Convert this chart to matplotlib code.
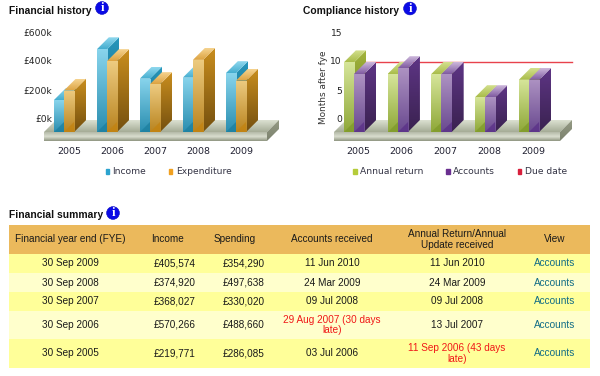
import numpy as np
import matplotlib
matplotlib.use('Agg')
import matplotlib.pyplot as plt
from matplotlib.colors import LinearSegmentedColormap
from matplotlib.patches import Patch, Polygon, Rectangle, Circle

# Chart data
YEARS = ['2005', '2006', '2007', '2008', '2009']
INCOME = [219771, 570266, 368027, 374920, 405574]
EXPENDITURE = [286085, 488660, 330020, 497638, 354290]
ANNUAL_RETURN = [12, 10, 10, 6, 9]
ACCOUNTS = [10, 11, 10, 6, 9]
DUE_DATE = 10
MONEY_TICKS = [0, 200000, 400000, 600000]
MONEY_LABELS = ['£0k', '£200k', '£400k', '£600k']
MONTH_TICKS = [0, 5, 10, 15]
MONTH_LABELS = ['0', '5', '10', '15']

# Table data
TABLE_HEADER = ['Financial year end (FYE)', 'Income', 'Spending', 'Accounts received',
                'Annual Return/Annual\nUpdate received', 'View']
FYE = ['30 Sep 2009', '30 Sep 2008', '30 Sep 2007', '30 Sep 2006', '30 Sep 2005']
TABLE_INCOME = ['£405,574', '£374,920', '£368,027', '£570,266', '£219,771']
TABLE_SPENDING = ['£354,290', '£497,638', '£330,020', '£488,660', '£286,085']
TABLE_ACCOUNTS = ['11 Jun 2010', '24 Mar 2009', '09 Jul 2008', '29 Aug 2007 (30 days\nlate)', '03 Jul 2006']
TABLE_RETURN = ['11 Jun 2010', '24 Mar 2009', '09 Jul 2008', '13 Jul 2007', '11 Sep 2006 (43 days\nlate)']

W, H = 600, 376
DEPTH = 12
CHART_FONT = 'DejaVu Sans'
BLUE = dict(front=('#88D4EC', '#2A8EB0'), side=('#2797BC', '#145E7A'), top=('#8FD8EE', '#45ADCF'), shade='#1C7F9F')
ORANGE = dict(front=('#EDCB80', '#B98420'), side=('#C98E1E', '#75500F'), top=('#F5D390', '#DDA340'), shade='#C48310')
GREEN = dict(front=('#D6E59A', '#8FA838'), side=('#A3B53C', '#5C6E1E'), top=('#D3E08E', '#A9BC4A'), shade='#7F9A2A')
PURPLE = dict(front=('#AD92C2', '#6A4A90'), side=('#5E3585', '#3A2250'), top=('#CDB8DC', '#7F5AA0'), shade='#5A3088')


def px(n):
    return n * 72 / 100


def gradient(ax, patch, colors, extent):
    """Fill a patch with a vertical gradient"""
    cmap = LinearSegmentedColormap.from_list('fill', colors)
    rows = cmap(np.linspace(0, 1, 64))[:, None, :3]
    img = ax.imshow(rows, extent=extent, aspect='auto', zorder=patch.get_zorder(),
                    interpolation='bilinear')
    img.set_clip_box(fig.bbox)
    img.set_clip_path(patch)


def add_poly(ax, points, colors, z):
    points = np.array(points)
    poly = Polygon(points, closed=True, fc='none', ec='none', zorder=z, transform=ax.transData)
    ax.add_patch(poly)
    extent = (points[:, 0].min(), points[:, 0].max(), points[:, 1].min(), points[:, 1].max())
    gradient(ax, poly, colors, extent)


def draw_bar(ax, x, val, width, dx, dy, style, z):
    rect = ax.bar(x, val, width, fc='none', ec='none', zorder=z + 2)[0]
    x0 = rect.get_x()
    x1 = x0 + width
    add_poly(ax, [(x1, 0), (x1 + dx, dy), (x1 + dx, val + dy), (x1, val)], style['side'], z)
    add_poly(ax, [(x0, val), (x1, val), (x1 + dx, val + dy), (x0 + dx, val + dy)], style['top'], z + 1)
    gradient(ax, rect, style['front'], (x0, x1, 0, val))
    # darker corner at the foot of the bar
    rise = dy * width / dx
    ax.add_patch(Polygon([(x0, 0), (x1, 0), (x1, rise)], fc=style['shade'], ec='none', alpha=0.75, zorder=z + 2))


def draw_floor(ax, xlim, dx, dy):
    low = -dy * 9 / DEPTH
    add_poly(ax, [(xlim[0], 0), (xlim[1], 0), (xlim[1] + dx, dy), (xlim[0] + dx, dy)],
             ('#DCE1D2', '#A5AC96'), 1)
    add_poly(ax, [(xlim[0], low), (xlim[1], low), (xlim[1], 0), (xlim[0], 0)],
             ('#B4BAA8', '#DADECF', '#8F9580'), 1)
    add_poly(ax, [(xlim[1], low), (xlim[1] + dx, low + dy), (xlim[1] + dx, dy), (xlim[1], 0)],
             ('#949A84', '#7C826E'), 1)


def chart(box, unit, centre, spacing, ticks, labels, series, label_right, year_shift):
    """box is x0, x1 of the floor front in pixels"""
    x0, x1 = box
    bottom, base = 141, 132
    ax = fig.add_axes([x0 / W, 1 - bottom / H, (x1 - x0) / W, (bottom - 45) / H])
    xlim = ((x0 - centre) / spacing, (x1 - centre) / spacing)
    ylim = (-(bottom - base) / unit, (base - 45) / unit)
    dx, dy = DEPTH / spacing, DEPTH / unit
    width = 10.2 / spacing
    draw_floor(ax, xlim, dx, dy)
    z = 5
    for i in range(len(YEARS)):
        for vals, off, style in series:
            draw_bar(ax, i + off, vals[i], width, dx, dy, style, z)
            z += 3
    for t, lab in zip(ticks, labels):
        ax.annotate(lab, (xlim[0], t), xytext=(px(label_right - x0), px(DEPTH)), textcoords='offset points',
                    ha='right', va='center', fontsize=6.6, color='#222222', family=CHART_FONT,
                    annotation_clip=False)
    for i, year in enumerate(YEARS):
        ax.annotate(year, (i, 0), xytext=(px(year_shift), px(-19)), textcoords='offset points',
                    ha='center', va='center', fontsize=6.8, color='#222233', family=CHART_FONT,
                    annotation_clip=False)
    ax.set_xlim(xlim)
    ax.set_ylim(ylim)
    ax.axis('off')
    return ax, xlim, dx, dy


def add_legend(handles, anchor):
    leg = fig.legend(handles=handles, loc='center left', bbox_to_anchor=(anchor[0] / W, 1 - anchor[1] / H),
                     ncol=len(handles), frameon=False, fontsize=6.6, handlelength=0.4, handleheight=0.4,
                     handletextpad=0.36, columnspacing=2.45, borderpad=0, borderaxespad=0,
                     labelcolor='#333344')
    for text in leg.get_texts():
        text.set_family(CHART_FONT)


def heading(page, text, x, y, icon_x, icon_y):
    page.text(x, y, text, fontsize=7.4, fontweight='bold', family='Liberation Sans', color='#111111',
              ha='left', va='center')
    page.add_patch(Circle((icon_x, icon_y), 6.4, fc='#0A0AE6', ec='#0A0AC0', lw=0.4, zorder=3))
    page.text(icon_x, icon_y, 'i', color='white', fontsize=9, fontweight='bold', family='Liberation Serif',
              ha='center', va='center', zorder=4)


fig = plt.figure(figsize=(W / 100, H / 100), dpi=100)

# page layer in pixel coordinates, used for headings and the table
page = fig.add_axes([0, 0, 1, 1])
page.set_xlim(0, W)
page.set_ylim(H, 0)
page.axis('off')

heading(page, 'Financial history', 9, 11, 102, 8)
heading(page, 'Compliance history', 303, 11, 410, 8.5)
heading(page, 'Financial summary', 9, 215, 113, 213)

# Financial history
ax1, _, _, _ = chart((44, 267), 29 / 200000, 64, 43, MONEY_TICKS, MONEY_LABELS,
                     [(INCOME, -0.118, BLUE), (EXPENDITURE, 0.118, ORANGE)], 52, 5)
add_legend([Patch(color='#2BA3CF', label='Income'), Patch(color='#F0A020', label='Expenditure')], (105.5, 172))

# Compliance history
ax2, xlim2, dx2, dy2 = chart((334, 560), 5.8, 354, 43.75, MONTH_TICKS, MONTH_LABELS,
                             [(ANNUAL_RETURN, -0.116, GREEN), (ACCOUNTS, 0.116, PURPLE)], 342, 4)
ax2.plot([xlim2[0] + dx2, xlim2[1] + dx2], [DUE_DATE + dy2, DUE_DATE + dy2], color='#E8424C', lw=1, zorder=4,
         clip_on=False)
page.text(323, 87, 'Months after fye', rotation=90, fontsize=6.4, color='#333333', family=CHART_FONT,
          ha='center', va='center')
add_legend([Patch(color='#B5CC3A', label='Annual return'), Patch(color='#6A2F90', label='Accounts'),
            Patch(color='#D81F3C', label='Due date')], (353.5, 172))

# Financial summary table
head_x = [70.5, 167, 235, 332, 457, 555]
col_x = [70.5, 175, 244, 332, 457, 555]
row_edges = [225, 254, 273, 292, 310.5, 339, 368]
columns = [FYE, TABLE_INCOME, TABLE_SPENDING, TABLE_ACCOUNTS, TABLE_RETURN, ['Accounts'] * len(FYE)]
page.add_patch(Rectangle((8.5, row_edges[0]), 581.5, row_edges[1] - row_edges[0], fc='#EBB95C', ec='none'))
for cx, head in zip(head_x, TABLE_HEADER):
    page.text(cx, 239.5, head, fontsize=7.2, family='Liberation Sans', color='#1A1A1A', ha='center', va='center',
              linespacing=1.05)
for r in range(len(FYE)):
    y0, y1 = row_edges[r + 1], row_edges[r + 2]
    page.add_patch(Rectangle((8.5, y0), 581.5, y1 - y0, fc='#FFFF99' if r % 2 == 0 else '#FFFFCC', ec='none'))
    for c, cx in enumerate(col_x):
        text = columns[c][r]
        color = '#1A1A1A'
        if 'late' in text:
            color = '#F01818'
        elif c == 5:
            color = '#116C86'
        page.text(cx, (y0 + y1) / 2, text, fontsize=7.2, family='Liberation Sans', color=color,
                  ha='center', va='center', linespacing=1.05)

plt.savefig('out.png', dpi=100)
